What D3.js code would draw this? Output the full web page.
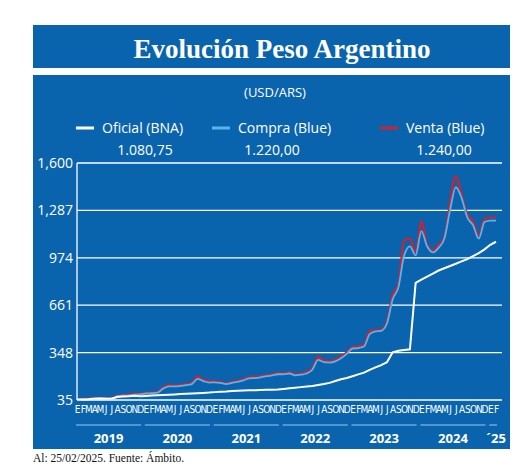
<!DOCTYPE html>
<html><head><meta charset="utf-8">
<script src="https://cdn.jsdelivr.net/npm/d3@7"></script>
<style>body{margin:0;background:#fff;font-family:"Open Sans",sans-serif}</style>
</head><body><div id="wrapper"></div>
<script>
const months = ['E','F','M','A','M','J','J','A','S','O','N','D'];
const years = ['2019','2020','2021','2022','2023','2024','´25'];
const yTicks = [35, 348, 661, 974, 1287, 1600];
// monthly values, Jan 2019 .. Feb 2025
const compra = [38,40,42,45,46,45,44,60,63,66,70,72,
  78,80,83,110,125,125,128,133,140,175,160,150,
  152,148,140,148,155,165,178,180,185,192,198,205,
  205,210,198,202,210,235,300,285,282,290,310,340,
  375,378,388,470,488,492,540,700,780,990,1050,990,
  1150,1050,1010,1040,1100,1290,1440,1370,1240,1190,1100,1210,
  1220,1220];
const venta = [40,42,44,48,50,48,47,64,67,70,75,76,
  82,84,88,118,135,130,134,140,148,190,168,160,
  158,154,145,155,162,172,186,188,192,198,205,212,
  212,218,205,210,220,245,320,295,290,300,322,350,
  385,390,400,490,495,500,555,730,800,1090,1100,1010,
  1215,1060,1025,1060,1110,1340,1510,1390,1260,1215,1120,1230,
  1240,1240];
const oficial = [38,39,40,43,45,44,43,55,58,60,63,60,
  62,64,66,68,70,72,74,76,78,80,82,84,
  87,89,91,94,96,98,99,100,101,102,103,104,
  108,112,116,120,124,128,134,140,148,160,172,180,
  192,204,216,234,250,265,285,350,360,365,370,808,
  830,850,870,890,905,920,935,950,965,985,1005,1030,
  1060,1080];

const W = 520, H = 468;
const svg = d3.select('#wrapper').append('svg').attr('width', W).attr('height', H);
const blue = '#0a64ad';
svg.append('rect').attr('x', 33).attr('y', 25).attr('width', 477).attr('height', 43).attr('fill', blue);
svg.append('rect').attr('x', 33).attr('y', 75).attr('width', 477).attr('height', 374).attr('fill', blue);
svg.append('text').attr('x', 282).attr('y', 58).attr('text-anchor', 'middle').attr('fill', '#fff')
  .style('font-family', '"Liberation Serif",serif').style('font-weight', 'bold').style('font-size', '27px')
  .text('Evolución Peso Argentino');
svg.append('text').attr('x', 275).attr('y', 97).attr('text-anchor', 'middle').attr('fill', '#fff')
  .style('font-size', '13px').text('(USD/ARS)');

const legend = [
  {name: 'Oficial (BNA)', val: '1.080,75', c: '#fff', x: 76, vx: 145},
  {name: 'Compra (Blue)', val: '1.220,00', c: '#5ab4ec', x: 212, vx: 272},
  {name: 'Venta (Blue)', val: '1.240,00', c: '#d4202a', x: 380, vx: 444}];
legend.forEach(l => {
  svg.append('line').attr('x1', l.x).attr('x2', l.x + 18).attr('y1', 128).attr('y2', 128)
    .attr('stroke', l.c).attr('stroke-width', 3);
  svg.append('text').attr('x', l.x + 26).attr('y', 133).attr('fill', '#fff').style('font-size', '14px').text(l.name);
  svg.append('text').attr('x', l.vx).attr('y', 155).attr('text-anchor', 'middle').attr('fill', '#fff').style('font-size', '14px').text(l.val);
});

const x0 = 77, x1 = 502;
const x = d3.scaleLinear().domain([0, compra.length - 1]).range([x0, 496]);
const y = d3.scaleLinear().domain([35, 1600]).range([400, 163]);

const g = svg.append('g');
g.selectAll('.grid').data(yTicks).join('line')
  .attr('x1', x0).attr('x2', x1).attr('y1', d => y(d)).attr('y2', d => y(d))
  .attr('stroke', '#fff').attr('stroke-width', 1.3);
svg.append('line').attr('x1', x0).attr('x2', x0).attr('y1', y(1600)).attr('y2', y(35)).attr('stroke', '#fff').attr('stroke-width', 1.3);
const yAxis = svg.append('g').attr('transform', `translate(${x0 - 4},0)`)
  .call(d3.axisLeft(y).tickValues(yTicks).tickSize(0).tickPadding(0));
yAxis.select('.domain').remove();
yAxis.selectAll('text').attr('fill', '#fff').style('font-size', '14px').style('font-family', '"Open Sans",sans-serif');

const line = d3.line().x((d, i) => x(i)).y(d => y(d)).curve(d3.curveMonotoneX);
g.append('path').attr('d', line(venta)).attr('fill', 'none').attr('stroke', '#d4202a').attr('stroke-width', 2.2);
g.append('path').attr('d', line(compra)).attr('fill', 'none').attr('stroke', '#5ab4ec').attr('stroke-width', 1.8);
g.append('path').attr('d', d3.line().x((d, i) => x(i)).y(d => y(d))(oficial)).attr('fill', 'none').attr('stroke', '#fff').attr('stroke-width', 2);

// month ticks
const mIdx = d3.range(compra.length);
const xAxis = svg.append('g').attr('transform', 'translate(0,402)')
  .call(d3.axisBottom(x).tickValues(mIdx).tickSize(0).tickPadding(4).tickFormat(i => months[i % 12]));
xAxis.select('.domain').remove();
xAxis.selectAll('text').attr('fill', '#fff').style('font-size', '10px')
  .style('font-family', '"Liberation Sans Narrow","DejaVu Sans Condensed",sans-serif');

years.forEach((yr, k) => {
  const a = x(k * 12) - 2, b = x(Math.min(k * 12 + 11, compra.length - 1)) + 2;
  svg.append('line').attr('x1', a + 1).attr('x2', b - 1).attr('y1', 425).attr('y2', 425).attr('stroke', '#9cc7ea').attr('stroke-width', 1);
  svg.append('text').attr('x', (a + b) / 2 + (k === 6 ? 3 : 0)).attr('y', 443).attr('text-anchor', 'middle')
    .attr('fill', '#fff').style('font-size', '13px').style('font-weight', 'bold').text(yr);
});

svg.append('text').attr('x', 33).attr('y', 462).attr('fill', '#111')
  .style('font-family', '"Liberation Serif",serif').style('font-size', '11.5px').text('Al: 25/02/2025. Fuente: Ámbito.');
</script></body></html>
